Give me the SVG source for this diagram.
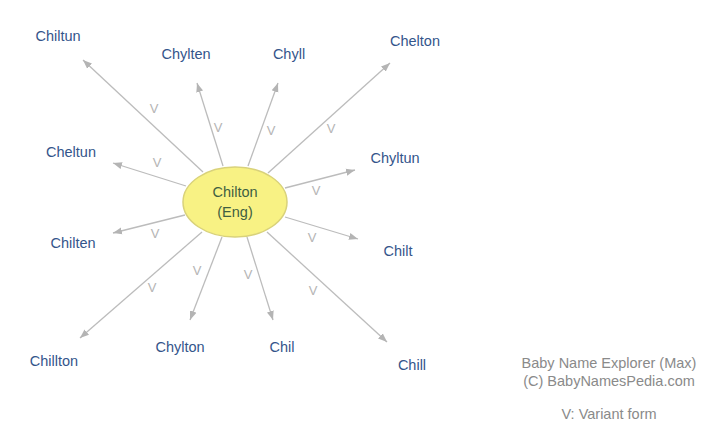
<svg xmlns="http://www.w3.org/2000/svg" width="720" height="439" viewBox="0 0 720 439">
<style>
.lbl{font-family:"Liberation Sans",Arial,sans-serif;font-size:14.5px;fill:#34558b;text-anchor:middle}
.v{font-family:"Liberation Sans",Arial,sans-serif;font-size:13px;fill:#b4b4b4;text-anchor:middle}
.e{stroke:#bcbcbc;stroke-width:1.3;fill:none;marker-end:url(#ah)}
.ft{font-family:"Liberation Sans",Arial,sans-serif;font-size:14.5px;fill:#8a8a8a;text-anchor:middle}
.ct{font-family:"Liberation Sans",Arial,sans-serif;font-size:14.5px;fill:#3f5f42;text-anchor:middle}
</style>
<defs>
<marker id="ah" markerUnits="userSpaceOnUse" markerWidth="10" markerHeight="8" refX="9" refY="4" orient="auto">
<path d="M0,0.5 L9,4 L0,7.5 Z" fill="#b4b4b4"/>
</marker>
</defs>
<rect width="720" height="439" fill="#ffffff"/>
<g id="connectors">
<line class="e" x1="203" y1="172" x2="83" y2="60"/>
<line class="e" x1="223" y1="166" x2="197" y2="83"/>
<line class="e" x1="248" y1="166" x2="278" y2="83"/>
<line class="e" x1="268" y1="173" x2="390" y2="63"/>
<line class="e" x1="186" y1="186" x2="113" y2="163"/>
<line class="e" x1="285" y1="188" x2="355" y2="170"/>
<line class="e" x1="185" y1="215" x2="113" y2="233"/>
<line class="e" x1="285" y1="217" x2="358" y2="239"/>
<line class="e" x1="202" y1="232" x2="80" y2="338"/>
<line class="e" x1="222" y1="237" x2="190" y2="320"/>
<line class="e" x1="247" y1="237" x2="273" y2="320"/>
<line class="e" x1="267" y1="232" x2="387" y2="342"/>
<text class="v" x="154" y="113">V</text>
<text class="v" x="218" y="132">V</text>
<text class="v" x="271" y="135">V</text>
<text class="v" x="331" y="133">V</text>
<text class="v" x="157" y="167">V</text>
<text class="v" x="316" y="195">V</text>
<text class="v" x="155" y="238">V</text>
<text class="v" x="312" y="242">V</text>
<text class="v" x="152" y="292">V</text>
<text class="v" x="197" y="275">V</text>
<text class="v" x="248" y="279">V</text>
<text class="v" x="313" y="295">V</text>
</g>
<g id="center">
<ellipse cx="235" cy="202" rx="52" ry="35" fill="#f8f284" stroke="#d9d27a" stroke-width="1.5"/>
<text class="ct" x="235" y="197">Chilton</text>
<text class="ct" x="235" y="217">(Eng)</text>
</g>
<g id="n-chiltun"><text class="lbl" x="58" y="41">Chiltun</text></g>
<g id="n-chylten"><text class="lbl" x="186" y="59">Chylten</text></g>
<g id="n-chyll"><text class="lbl" x="289" y="59">Chyll</text></g>
<g id="n-chelton"><text class="lbl" x="415" y="46">Chelton</text></g>
<g id="n-cheltun"><text class="lbl" x="71" y="157">Cheltun</text></g>
<g id="n-chyltun"><text class="lbl" x="395" y="163">Chyltun</text></g>
<g id="n-chilten"><text class="lbl" x="73" y="248">Chilten</text></g>
<g id="n-chilt"><text class="lbl" x="398" y="256">Chilt</text></g>
<g id="n-chillton"><text class="lbl" x="54" y="366">Chillton</text></g>
<g id="n-chylton"><text class="lbl" x="180" y="352">Chylton</text></g>
<g id="n-chil"><text class="lbl" x="282" y="352">Chil</text></g>
<g id="n-chill"><text class="lbl" x="412" y="370">Chill</text></g>
<g id="footer">
<text class="ft" x="609" y="368">Baby Name Explorer (Max)</text>
<text class="ft" x="609" y="386">(C) BabyNamesPedia.com</text>
<text class="ft" x="609" y="419">V: Variant form</text>
</g>
</svg>
